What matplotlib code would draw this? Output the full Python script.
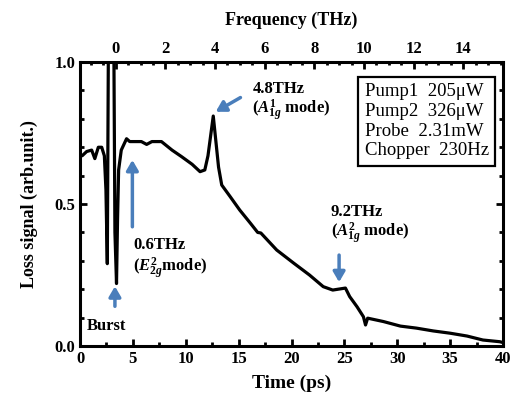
import numpy as np
import matplotlib
matplotlib.use("Agg")
import matplotlib.pyplot as plt
from matplotlib.ticker import MultipleLocator

plt.rcParams['font.family'] = ['Liberation Serif', 'DejaVu Serif']
plt.rcParams['mathtext.fontset'] = 'custom'
plt.rcParams['mathtext.it'] = 'Liberation Serif:italic:bold'
plt.rcParams['mathtext.rm'] = 'Liberation Serif:bold'

# loss signal vs time
time_ps = [0.0, 0.2, 0.63, 1.1, 1.4, 1.73, 2.05, 2.3, 2.45, 2.58, 2.68, 3.2, 3.3, 3.45, 3.55,
           3.65, 3.9, 4.4, 4.7, 5.2, 5.8, 6.3, 6.8, 7.7, 8.7, 9.6, 10.6, 11.35, 11.8, 12.1,
           12.6, 13.1, 13.4, 14.2, 15.1, 16.1, 16.8, 17.1, 18.6, 20.2, 21.7, 23.0, 23.9,
           25.1, 25.5, 26.2, 26.8, 27.0, 27.2, 28.7, 30.3, 31.8, 33.4, 35.0, 36.6, 38.1,
           39.7, 40.0]
signal = [0.67, 0.67, 0.685, 0.69, 0.66, 0.70, 0.70, 0.67, 0.55, 0.29, 1.05, 1.05, 0.40,
          0.22, 0.45, 0.62, 0.69, 0.73, 0.72, 0.72, 0.72, 0.71, 0.72, 0.72, 0.69, 0.667,
          0.64, 0.614, 0.62, 0.67, 0.81, 0.63, 0.567, 0.526, 0.479, 0.433, 0.40, 0.398,
          0.338, 0.292, 0.25, 0.209, 0.197, 0.204, 0.174, 0.138, 0.103, 0.074, 0.098,
          0.086, 0.07, 0.063, 0.053, 0.045, 0.035, 0.021, 0.015, 0.012]

legend_lines = ["Pump1  205\u03bcW", "Pump2  326\u03bcW", "Probe  2.31mW", "Chopper  230Hz"]

blue = '#4a7ebb'

fig = plt.figure(figsize=(5.13, 3.98), dpi=100)
ax = fig.add_axes([0.156, 0.1307, 0.8245, 0.7133])
ax.plot(time_ps, signal, color='black', lw=2.3)
ax.set_xlim(0, 40)
ax.set_ylim(0, 1.0)
ax.xaxis.set_major_locator(MultipleLocator(5))
ax.xaxis.set_minor_locator(MultipleLocator(2.5))
ax.yaxis.set_minor_locator(MultipleLocator(0.1))
ax.set_yticks([0, 0.5, 1.0])
ax.set_yticklabels(['0.0', '0.5', '1.0'])
ax.tick_params(which='both', direction='in', right=True, top=False, width=2)
ax.tick_params(which='major', length=5)
ax.tick_params(which='minor', length=3)
for lab in ax.get_xticklabels() + ax.get_yticklabels():
    lab.set_fontweight('bold')
    lab.set_fontsize(12)
for s in ax.spines.values():
    s.set_linewidth(2.2)
ax.set_xlabel('Time (ps)', fontsize=14, fontweight='bold', labelpad=6)
ax.set_ylabel('Loss signal (arb.unit.)', fontsize=13, fontweight='bold', labelpad=12)

top = ax.twiny()
top.set_xlim(-1.44, 15.6)
top.xaxis.set_minor_locator(MultipleLocator(0.5))
top.set_xticks([0, 2, 4, 6, 8, 10, 12, 14])
top.tick_params(which='both', direction='in', width=2)
top.tick_params(which='major', length=5)
top.tick_params(which='minor', length=2.5)
for lab in top.get_xticklabels():
    lab.set_fontweight('bold')
    lab.set_fontsize(12)
top.set_xlabel('Frequency (THz)', fontsize=13, fontweight='bold', labelpad=12)

# annotations
akw = dict(arrowstyle='-|>,head_width=0.35,head_length=0.6', color=blue, lw=2.5)
ax.annotate('', xy=(12.6, 0.82), xytext=(15.4, 0.88), arrowprops=akw)
ax.text(16.3, 0.905, '4.8THz', fontsize=12, fontweight='bold', va='center')
ax.text(16.3, 0.83, r'($A_{1g}^{1}$ mode)', fontsize=12, fontweight='bold', va='center')

ax.annotate('', xy=(4.95, 0.665), xytext=(4.95, 0.41), arrowprops=akw)
ax.text(5.0, 0.354, '0.6THz', fontsize=12, fontweight='bold', va='center')
ax.text(5.0, 0.272, r'($E_{2g}^{2}$mode)', fontsize=12, fontweight='bold', va='center')

ax.annotate('', xy=(3.3, 0.22), xytext=(3.3, 0.13), arrowprops=akw)
ax.text(0.6, 0.07, 'Burst', fontsize=12, fontweight='bold', va='center')

ax.annotate('', xy=(24.5, 0.215), xytext=(24.5, 0.33), arrowprops=akw)
ax.text(23.7, 0.472, '9.2THz', fontsize=12, fontweight='bold', va='center')
ax.text(23.7, 0.395, r'($A_{1g}^{2}$ mode)', fontsize=12, fontweight='bold', va='center')

ax.text(0.673, 0.925, '\n'.join(legend_lines), transform=ax.transAxes, ha='left', va='top',
        fontsize=13.5, linespacing=1.2,
        bbox=dict(boxstyle='square,pad=0.35', fc='white', ec='black', lw=1.6))

fig.savefig('out.png', dpi=100)
